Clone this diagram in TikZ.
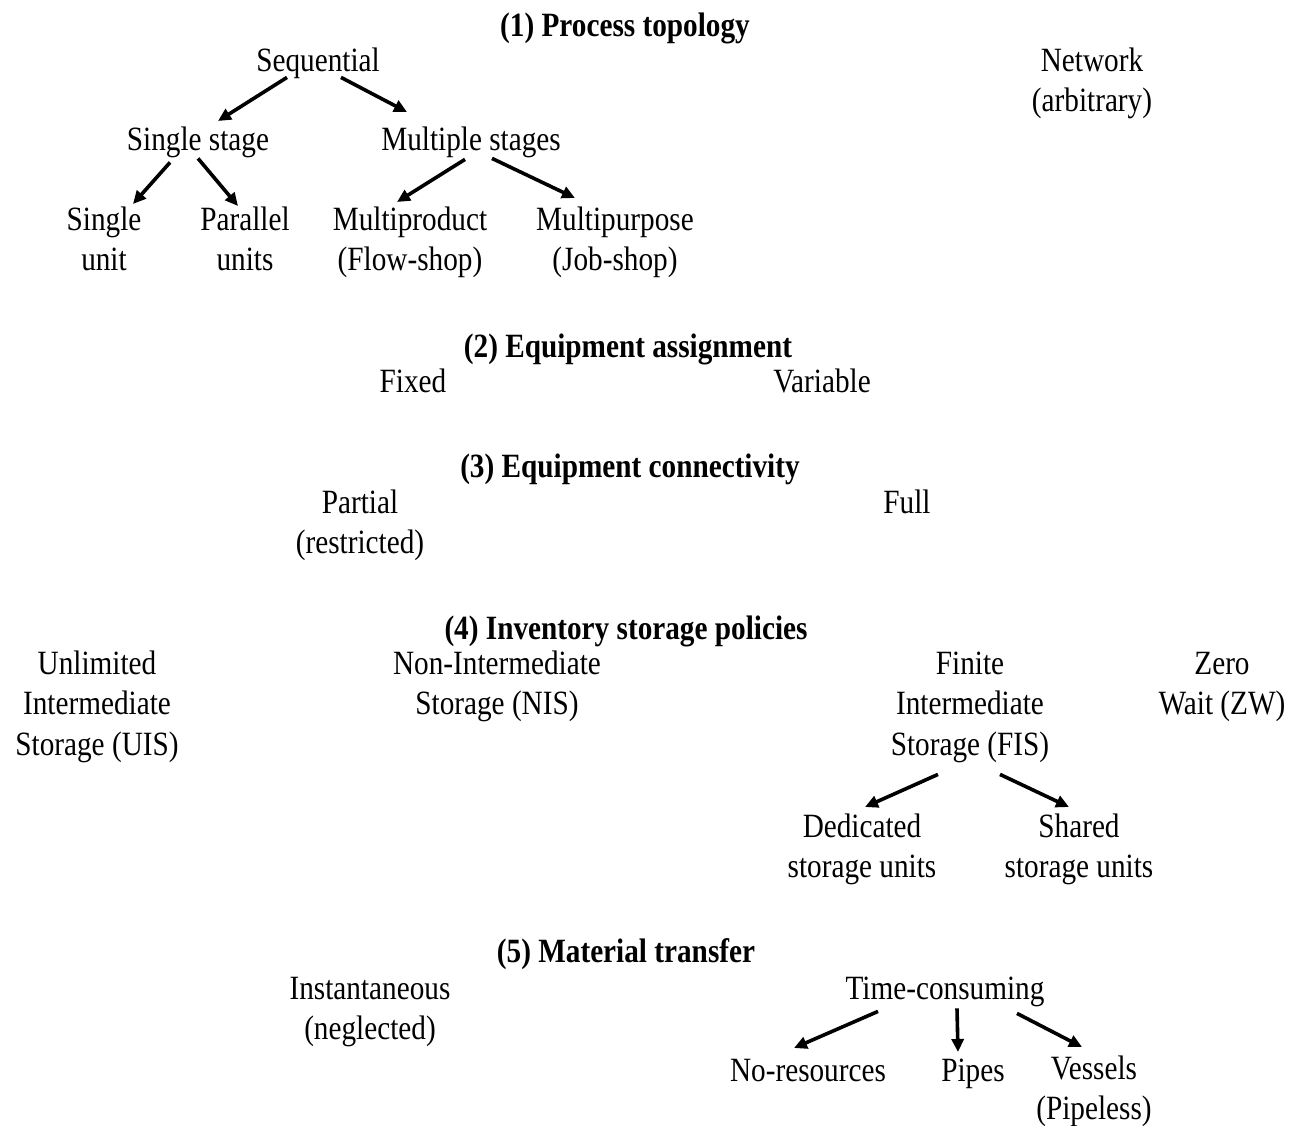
\documentclass[tikz,border=0pt]{standalone}
\usepackage{fontspec}
\setmainfont{Liberation Serif}[FakeStretch=0.86]
\usetikzlibrary{arrows.meta,calc}

\begin{document}
\begin{tikzpicture}[x=1pt,y=1pt,
  lbl/.style={anchor=north, yshift=28.35pt, inner sep=0pt, align=center,
    font=\fontsize{34}{40.5}\selectfont,
    execute at end node=\strut},
  heading/.style={anchor=base, inner sep=0pt,
    font=\fontsize{34}{40.5}\selectfont\bfseries},
  arr/.style={line width=3.6pt, -{Triangle[length=13pt,width=12pt]}}]
\useasboundingbox (0,0) rectangle (1299,-1125);

% (1) Process topology
\node[heading] (t1) at (625,-36) {(1) Process topology};
\node[lbl] (seq) at (318,-71) {\strut Sequential};
\node[lbl] (net) at (1092,-71) {\strut Network\\(arbitrary)};
\node[lbl] (sst) at (198,-150) {\strut Single stage};
\node[lbl] (mst) at (471,-150) {\strut Multiple stages};
\node[lbl] (sun) at (104,-230) {\strut Single\\unit};
\node[lbl] (pun) at (245,-230) {\strut Parallel\\units};
\node[lbl] (mpr) at (410,-230) {\strut Multiproduct\\(Flow-shop)};
\node[lbl] (mpu) at (615,-230) {\strut Multipurpose\\(Job-shop)};

\draw[arr] ($(seq.south)+(-31,6.15)$) -- ($(sst.north)+(20,0.65)$);
\draw[arr] ($(seq.south)+(23,6.15)$) -- ($(mst.north)+(-64,9.65)$);
\draw[arr] ($(sst.south)+(-28,0.15)$) -- ($(sun.north)+(29,-2.35)$);
\draw[arr] ($(sst.south)+(0,4.15)$) -- ($(pun.north)+(-7,-4.35)$);
\draw[arr] ($(mst.south)+(-6,3.15)$) -- ($(mpr.north)+(-13,-0.35)$);
\draw[arr] ($(mst.south)+(21,4.15)$) -- ($(mpu.north)+(-40,3.65)$);

% (2) Equipment assignment
\node[heading] (t2) at (628,-357) {(2) Equipment assignment};
\node[lbl] (fix) at (413,-392) {\strut Fixed};
\node[lbl] (var) at (822,-392) {\strut Variable};

% (3) Equipment connectivity
\node[heading] (t3) at (630,-477) {(3) Equipment connectivity};
\node[lbl] (par) at (360,-513) {\strut Partial\\(restricted)};
\node[lbl] (ful) at (907,-513) {\strut Full};

% (4) Inventory storage policies
\node[heading] (t4) at (626,-639) {(4) Inventory storage policies};
\node[lbl] (uis) at (97,-674) {\strut Unlimited\\Intermediate\\Storage (UIS)};
\node[lbl] (nis) at (497,-674) {\strut Non-Intermediate\\Storage (NIS)};
\node[lbl] (fis) at (970,-674) {\strut Finite\\Intermediate\\Storage (FIS)};
\node[lbl] (zw) at (1222,-674) {\strut Zero\\Wait (ZW)};
\node[lbl] (ded) at (862,-837) {\strut Dedicated\\storage units};
\node[lbl] (shr) at (1079,-837) {\strut Shared\\storage units};

\draw[arr] ($(fis.south)+(-32,-6.85)$) -- ($(ded.north)+(3,1.65)$);
\draw[arr] ($(fis.south)+(30,-6.85)$) -- ($(shr.north)+(-10,1.65)$);

% (5) Material transfer
\node[heading] (t5) at (626,-962) {(5) Material transfer};
\node[lbl] (ins) at (370,-999) {\strut Instantaneous\\(neglected)};
\node[lbl] (tcm) at (945,-999) {\strut Time-consuming};
\node[lbl] (nor) at (808,-1081) {\strut No-resources};
\node[lbl] (pip) at (973,-1081) {\strut Pipes};
\node[lbl] (ves) at (1094,-1079) {\strut Vessels\\(Pipeless)};

\draw[arr] ($(tcm.south)+(-67,0.15)$) -- ($(nor.north)+(-14,4.65)$);
\draw[arr] ($(tcm.south)+(12,3.15)$) -- ($(pip.north)+(-15,0.65)$);
\draw[arr] ($(tcm.south)+(72,-1.85)$) -- ($(ves.north)+(-12,3.65)$);
\end{tikzpicture}
\end{document}
